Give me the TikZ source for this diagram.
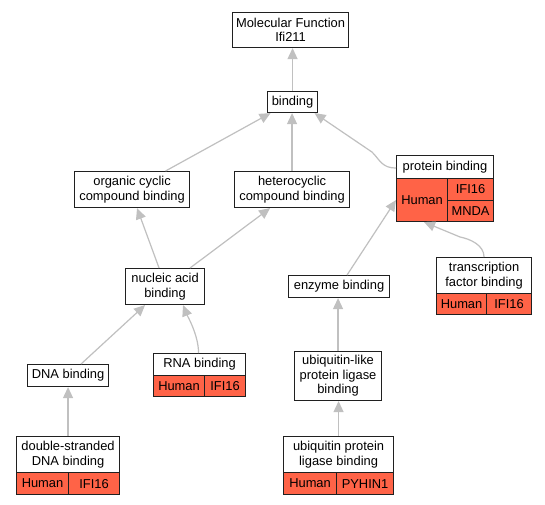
\documentclass[tikz,border=0pt]{standalone}
\usepackage{fontspec}
\setmainfont{Liberation Sans}
\usetikzlibrary{arrows.meta}
\definecolor{tom}{HTML}{FF6347}
\definecolor{edgegray}{HTML}{C0C0C0}
\definecolor{bordr}{HTML}{202020}
\tikzset{
 box/.style={draw=bordr, line width=1.1pt, fill=white, inner sep=0pt, align=center,
   font=\fontsize{12.9}{14.5}\selectfont, anchor=north west},
 cell/.style={box, fill=tom},
 edge/.style={draw=edgegray, line width=1.2pt, -{Triangle[length=11pt,width=10pt]}},
}
\begin{document}
\begin{tikzpicture}[x=1pt,y=-1pt]
\useasboundingbox[fill=white] (0,0) rectangle (545,504);
% nodes
\node[box, minimum width=116, minimum height=35] (mf) at (232,12) {Molecular Function\\Ifi211};
\node[box, minimum width=50, minimum height=21] (bind) at (267,91) {binding};
\node[box, minimum width=115, minimum height=36] (org) at (74,171) {organic cyclic\\compound binding};
\node[box, minimum width=115, minimum height=36] (het) at (234,171) {heterocyclic\\compound binding};
\node[box, minimum width=97, minimum height=23] (pbh) at (396,155) {protein binding};
\node[cell, minimum width=51, minimum height=43] (pbs) at (396,178) {Human};
\node[cell, minimum width=46, minimum height=22] (pbg1) at (447,178) {IFI16};
\node[cell, minimum width=46, minimum height=21] (pbg2) at (447,200) {MNDA};
\node[box, minimum width=79, minimum height=36] (nuc) at (125,268) {nucleic acid\\binding};
\node[box, minimum width=101, minimum height=22] (enz) at (288,275) {enzyme binding};
\node[box, minimum width=95, minimum height=36] (tfh) at (436,257) {transcription\\factor binding};
\node[cell, minimum width=50, minimum height=21] (tfs) at (436,293) {Human};
\node[cell, minimum width=45, minimum height=21] (tfg) at (486,293) {IFI16};
\node[box, minimum width=81, minimum height=22] (dna) at (27,364) {DNA binding};
\node[box, minimum width=92, minimum height=22] (rnah) at (153,353) {RNA binding};
\node[cell, minimum width=51, minimum height=21] (rnas) at (153,375) {Human};
\node[cell, minimum width=41, minimum height=21] (rnag) at (204,375) {IFI16};
\node[box, minimum width=87, minimum height=49] (ubl) at (294,351) {ubiquitin-like\\protein ligase\\binding};
\node[box, minimum width=103, minimum height=36] (dsh) at (16,436) {double-stranded\\DNA binding};
\node[cell, minimum width=52, minimum height=22] (dss) at (16,472) {Human};
\node[cell, minimum width=51, minimum height=22] (dsg) at (68,472) {IFI16};
\node[box, minimum width=110, minimum height=36] (uph) at (283,436) {ubiquitin protein\\ligase binding};
\node[cell, minimum width=53, minimum height=22] (ups) at (283,472) {Human};
\node[cell, minimum width=57, minimum height=22] (upg) at (336,472) {PYHIN1};
% edges
\draw[edge] (bind.north) -- (bind.north |- mf.south);
\draw[edge] ([xshift=33.5]org.north) -- ([xshift=-22]bind.south);
\draw[edge] (het.north) -- (het.north |- bind.south);
\draw[edge] ([yshift=-1]pbh.west) .. controls +(-14,0) and +(8,8) .. ++(-24,-16) -- ([xshift=22]bind.south);
\draw[edge] ([xshift=-6]nuc.north) -- ([xshift=5]org.south);
\draw[edge] ([xshift=25]nuc.north) -- ([xshift=-22]het.south);
\draw[edge] ([xshift=8]enz.north) -- (pbs.west);
\draw[edge] (tfh.north) .. controls +(0,-12) and +(10,2) .. ++(-24,-20) -- ([xshift=2]pbs.south);
\draw[edge] ([xshift=13]dna.north) -- ([xshift=-20]nuc.south);
\draw[edge] ([xshift=-1]rnah.north) .. controls +(0,-18) and +(4,10) .. ([xshift=18]nuc.south);
\draw[edge] (dsh.north) -- (dsh.north |- dna.south);
\draw[edge] (ubl.north) -- (ubl.north |- enz.south);
\draw[edge] (uph.north) -- (uph.north |- ubl.south);
\end{tikzpicture}
\end{document}
